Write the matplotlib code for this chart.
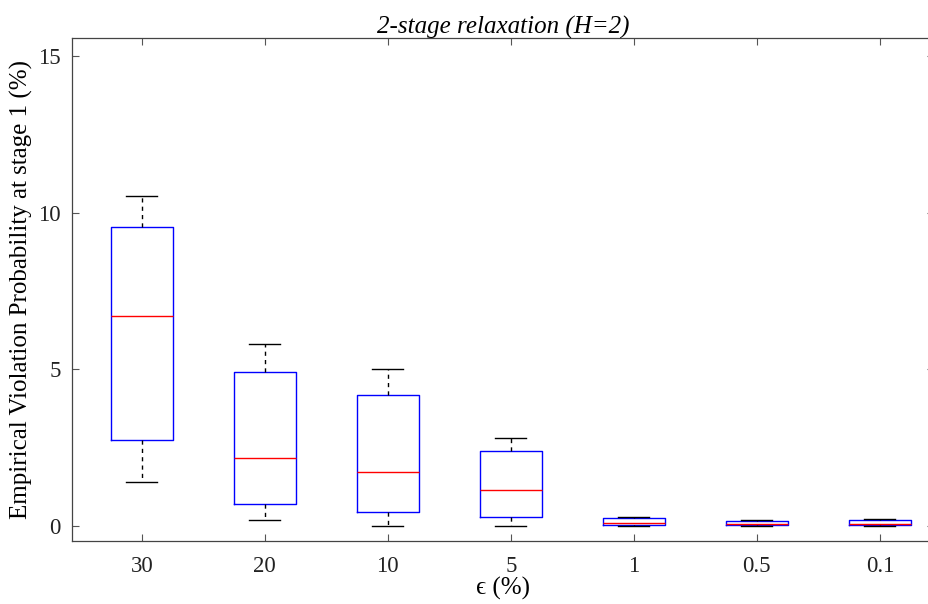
import matplotlib
matplotlib.use("Agg")
import matplotlib.pyplot as plt

plt.rcParams['font.family'] = ['Liberation Serif', 'DejaVu Serif']
plt.rcParams['mathtext.fontset'] = 'stix'

# data
eps_labels = ['30', '20', '10', '5', '1', '0.5', '0.1']
whisker_lo = [1.40, 0.20, 0.00, 0.00, 0.00, 0.00, 0.00]
q1 = [2.74, 0.70, 0.44, 0.29, 0.03, 0.02, 0.03]
median = [6.70, 2.18, 1.71, 1.15, 0.11, 0.05, 0.07]
q3 = [9.55, 4.90, 4.18, 2.38, 0.25, 0.17, 0.18]
whisker_hi = [10.52, 5.81, 5.01, 2.81, 0.30, 0.20, 0.21]

stats = []
for i in range(len(eps_labels)):
    stats.append(dict(label=eps_labels[i], whislo=whisker_lo[i], q1=q1[i],
                      med=median[i], q3=q3[i], whishi=whisker_hi[i], fliers=[]))

fig = plt.figure(figsize=(9.29, 6.04), dpi=100)
ax = fig.add_axes([72 / 929, 1 - 541 / 604, 862 / 929, 503 / 604])

ax.bxp(stats, positions=range(1, 8), widths=0.5, showfliers=False,
       boxprops=dict(color='blue', linewidth=1.0),
       medianprops=dict(color='red', linewidth=1.0),
       whiskerprops=dict(color='black', linestyle=(0, (3, 3)), linewidth=1.0),
       capprops=dict(color='black', linewidth=1.0), capwidths=0.25)

ax.set_xlim(0.433, 7.44)
ax.set_ylim(-0.48, 15.57)
ax.set_yticks([0, 5, 10, 15])
ax.set_xticks(range(1, 8))
ax.set_xticklabels(eps_labels)

for s in ax.spines.values():
    s.set_color('#444444')
    s.set_linewidth(0.9)
ax.tick_params(direction='in', length=5, width=0.8, color='#555555',
               labelsize=16.5, top=True, right=True, labelcolor='#222222')
ax.tick_params(axis='x', pad=11)
ax.tick_params(axis='y', pad=8)

ax.set_title('2-stage relaxation (H=2)', fontsize=18, style='italic', pad=3)
ax.set_xlabel('\u03f5 (%)', fontsize=18, labelpad=0)
ax.set_ylabel('Empirical Violation Probability at stage 1 (%)', fontsize=18, labelpad=4)

fig.savefig('out.png', dpi=100)
